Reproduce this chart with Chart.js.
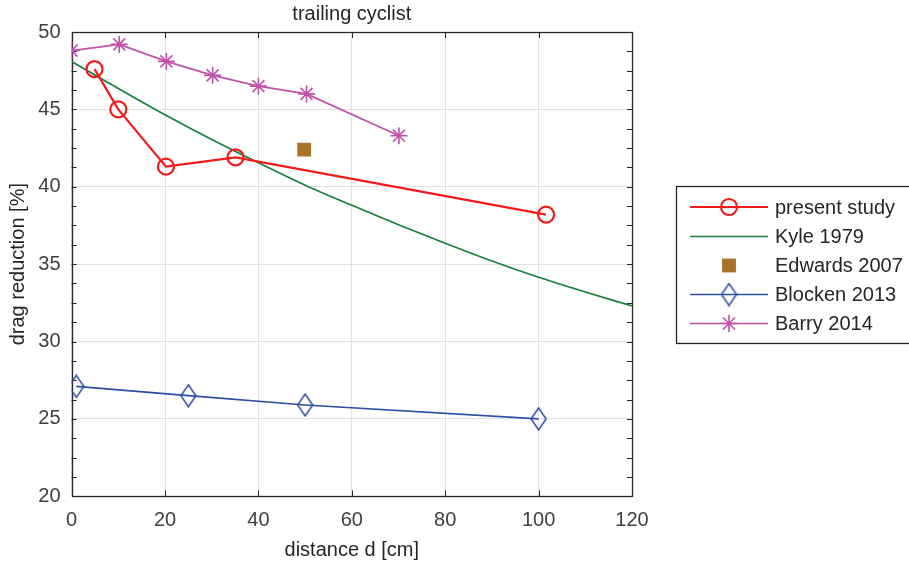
<!DOCTYPE html>
<html>
<head>
<meta charset="utf-8">
<title>trailing cyclist</title>
<script src="https://cdn.jsdelivr.net/npm/chart.js"></script>
<style>
  html, body { margin: 0; padding: 0; background: #fff; }
  #wrap { width: 909px; height: 565px; }
</style>
</head>
<body>
<div id="wrap"><canvas id="chart" width="909" height="565"></canvas></div>
<script>
// values: distance d [cm] / drag reduction [%]
const presentX = [4.9, 10.0, 20.2, 35.1, 101.6];
const presentY = [47.6, 45.0, 41.3, 41.9, 38.2];

const kyleX = [0, 10, 20, 30, 40, 50, 60, 70, 80, 90, 100, 110, 120];
const kyleY = [48.1, 46.35, 44.65, 43.05, 41.55, 40.1, 38.8, 37.55, 36.35, 35.2, 34.15, 33.2, 32.3];

const edwardsX = [49.8];
const edwardsY = [42.4];

const blockenX = [1, 25, 50, 100];
const blockenY = [27.1, 26.5, 25.9, 25.0];

const barryX = [0, 10.2, 20.3, 30.2, 40.0, 50.3, 70.1];
const barryY = [48.8, 49.2, 48.1, 47.2, 46.5, 46.0, 43.3];

const seriesNames = ['present study', 'Kyle 1979', 'Edwards 2007', 'Blocken 2013', 'Barry 2014'];

const xRange = [0, 120], xStep = 20;
const yRange = [20, 50], yStep = 5, yMinorStep = 1.25;

const FONT = '"Liberation Sans", Arial, Helvetica, sans-serif';
const TEXT = '#262626';
const AXIS = '#262626';

const RED = '#f51a1a', GREEN = '#17803d', BROWN = '#a8742a', BLUE = '#2f4ea3', MAGENTA = '#c052a9';

function pts(xs, ys) {
    return xs.map((x, i) => ({x: x, y: ys[i]}));
}

// tall diamond marker like matlab's 'd'
function diamond(color, w, h) {
    const c = document.createElement('canvas');
    c.width = w; c.height = h;
    const g = c.getContext('2d');
    g.strokeStyle = color;
    g.lineWidth = 1.5;
    g.beginPath();
    g.moveTo(w / 2, 1);
    g.lineTo(w - 1, h / 2);
    g.lineTo(w / 2, h - 1);
    g.lineTo(1, h / 2);
    g.closePath();
    g.stroke();
    return c;
}
const diamondImg = diamond(BLUE, 17, 24);

// box, inward ticks and minor ticks
const axesBox = {
    id: 'axesBox',
    beforeDatasetsDraw(chart) {
        const ctx = chart.ctx, a = chart.chartArea;
        const xs = chart.scales.x, ys = chart.scales.y;
        ctx.save();
        ctx.strokeStyle = AXIS;
        ctx.lineWidth = 1;
        ctx.beginPath();
        for (let v = xRange[0] + xStep; v < xRange[1]; v += xStep) {
            const px = Math.round(xs.getPixelForValue(v)) + 0.5;
            ctx.moveTo(px, a.bottom); ctx.lineTo(px, a.bottom - 6);
            ctx.moveTo(px, a.top); ctx.lineTo(px, a.top + 6);
        }
        for (let v = yRange[0] + yMinorStep; v < yRange[1]; v += yMinorStep) {
            const py = Math.round(ys.getPixelForValue(v)) + 0.5;
            ctx.moveTo(a.left, py); ctx.lineTo(a.left + 5, py);
            ctx.moveTo(a.right, py); ctx.lineTo(a.right - 5, py);
        }
        ctx.stroke();
        ctx.lineWidth = 1.3;
        ctx.strokeRect(Math.round(a.left) + 0.5, Math.round(a.top) + 0.5,
            Math.round(a.right) - Math.round(a.left), Math.round(a.bottom) - Math.round(a.top));
        ctx.restore();
    }
};

function legendMarker(ctx, ds, x, y) {
    const st = ds.pointStyle;
    if (ds.pointRadius === 0) return;
    ctx.save();
    ctx.strokeStyle = ds.pointBorderColor;
    ctx.fillStyle = ds.pointBackgroundColor;
    ctx.lineWidth = ds.pointBorderWidth;
    const r = ds.pointRadius;
    if (st === 'circle') {
        ctx.beginPath(); ctx.arc(x, y, r, 0, Math.PI * 2); ctx.stroke();
    } else if (st === 'rect') {
        const s = r * Math.SQRT1_2;
        ctx.fillRect(x - s, y - s, 2 * s, 2 * s);
    } else if (st === 'star') {
        ctx.beginPath();
        for (let k = 0; k < 4; k++) {
            const ang = k * Math.PI / 4;
            ctx.moveTo(x - Math.cos(ang) * r, y - Math.sin(ang) * r);
            ctx.lineTo(x + Math.cos(ang) * r, y + Math.sin(ang) * r);
        }
        ctx.stroke();
    } else if (st instanceof HTMLCanvasElement) {
        ctx.drawImage(st, x - st.width / 2, y - st.height / 2);
    }
    ctx.restore();
}

// legend box sitting right of the axes
const sideLegend = {
    id: 'sideLegend',
    afterDraw(chart) {
        const ctx = chart.ctx;
        const left = 676, top = 186, bottom = 343;
        const rowY = [207, 236.5, 265.5, 294.5, 323.5];
        ctx.save();
        ctx.fillStyle = '#fff';
        ctx.fillRect(left, top, 240, bottom - top);
        ctx.strokeStyle = AXIS;
        ctx.lineWidth = 1.3;
        ctx.strokeRect(left + 0.5, top + 0.5, 240, bottom - top);
        chart.data.datasets.forEach((ds, i) => {
            const y = rowY[i];
            if (ds.showLine !== false) {
                ctx.strokeStyle = ds.borderColor;
                ctx.lineWidth = ds.borderWidth;
                ctx.beginPath(); ctx.moveTo(690, y); ctx.lineTo(768, y); ctx.stroke();
            }
            legendMarker(ctx, ds, 729, y);
            ctx.fillStyle = TEXT;
            ctx.font = '20px ' + FONT;
            ctx.textAlign = 'left';
            ctx.textBaseline = 'middle';
            ctx.fillText(ds.label, 775, y + 1);
        });
        ctx.restore();
    }
};

const ctx = document.getElementById('chart').getContext('2d');
new Chart(ctx, {
    type: 'scatter',
    data: {
        datasets: [
            {
                label: seriesNames[0], data: pts(presentX, presentY), showLine: true,
                borderColor: RED, borderWidth: 2.2, pointStyle: 'circle', pointRadius: 8,
                pointBorderColor: RED, pointBackgroundColor: 'rgba(0,0,0,0)', pointBorderWidth: 2.2
            },
            {
                label: seriesNames[1], data: pts(kyleX, kyleY), showLine: true,
                borderColor: GREEN, borderWidth: 1.7, pointRadius: 0,
                cubicInterpolationMode: 'monotone'
            },
            {
                label: seriesNames[2], data: pts(edwardsX, edwardsY), showLine: false,
                borderColor: BROWN, pointStyle: 'rect', pointRadius: 9.8,
                pointBorderColor: BROWN, pointBackgroundColor: BROWN, pointBorderWidth: 0
            },
            {
                label: seriesNames[3], data: pts(blockenX, blockenY), showLine: true,
                borderColor: BLUE, borderWidth: 1.7, pointStyle: diamondImg, pointRadius: 10,
                pointBorderColor: BLUE, pointBackgroundColor: 'rgba(0,0,0,0)', pointBorderWidth: 1.5
            },
            {
                label: seriesNames[4], data: pts(barryX, barryY), showLine: true,
                borderColor: MAGENTA, borderWidth: 1.7, pointStyle: 'star', pointRadius: 8.5,
                pointBorderColor: MAGENTA, pointBackgroundColor: MAGENTA, pointBorderWidth: 1.6
            }
        ]
    },
    options: {
        responsive: false,
        animation: false,
        devicePixelRatio: 1,
        layout: { padding: { left: 0, right: 277, top: 0, bottom: 0 } },
        plugins: {
            legend: { display: false },
            tooltip: { enabled: false },
            title: {
                display: true, text: 'trailing cyclist', fullSize: false,
                color: TEXT, font: { family: FONT, size: 20, weight: 'normal', lineHeight: 1.2 },
                padding: { top: 2, bottom: 6 }
            }
        },
        scales: {
            x: {
                type: 'linear', min: xRange[0], max: xRange[1],
                ticks: { stepSize: xStep, color: '#404040', font: { family: FONT, size: 20 }, padding: 12, maxRotation: 0 },
                grid: { color: '#e2e2e2', drawTicks: false, lineWidth: 1 },
                border: { display: false },
                title: {
                    display: true, text: 'distance d [cm]', color: TEXT,
                    font: { family: FONT, size: 20, lineHeight: 1.2 }, padding: { top: 0, bottom: 3 }
                },
                afterFit: s => { s.height = 68.7; }
            },
            y: {
                type: 'linear', min: yRange[0], max: yRange[1],
                ticks: { stepSize: yStep, color: '#404040', font: { family: FONT, size: 20 }, padding: 11 },
                grid: { color: '#e2e2e2', drawTicks: false, lineWidth: 1 },
                border: { display: false },
                title: {
                    display: true, text: 'drag reduction [%]', color: TEXT,
                    font: { family: FONT, size: 20, lineHeight: 1.2 }, padding: { top: 6, bottom: 0 }
                },
                afterFit: s => { s.width = 71.6; }
            }
        }
    },
    plugins: [axesBox, sideLegend]
});
</script>
</body>
</html>
